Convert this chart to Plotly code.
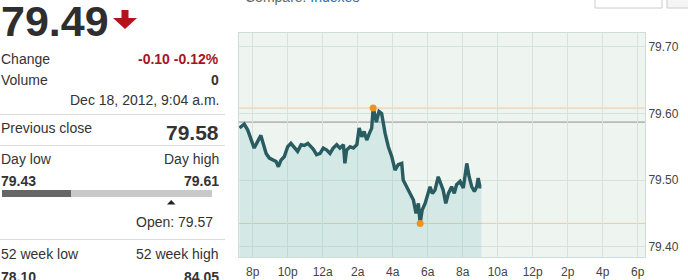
import plotly.graph_objects as go

# ---------------- data ----------------
times = [
    "2012-12-17 19:15", "2012-12-17 19:31", "2012-12-17 19:43", "2012-12-17 19:54",
    "2012-12-17 20:05", "2012-12-17 20:17", "2012-12-17 20:28", "2012-12-17 20:34",
    "2012-12-17 20:46", "2012-12-17 20:57", "2012-12-17 21:09", "2012-12-17 21:20",
    "2012-12-17 21:28", "2012-12-17 21:37", "2012-12-17 21:48", "2012-12-17 22:00",
    "2012-12-17 22:11", "2012-12-17 22:23", "2012-12-17 22:34", "2012-12-17 22:46",
    "2012-12-17 22:57", "2012-12-17 23:09", "2012-12-17 23:20", "2012-12-17 23:28",
    "2012-12-17 23:39", "2012-12-17 23:51", "2012-12-18 00:02", "2012-12-18 00:14",
    "2012-12-18 00:25", "2012-12-18 00:36", "2012-12-18 00:48", "2012-12-18 00:59",
    "2012-12-18 01:11", "2012-12-18 01:16", "2012-12-18 01:22", "2012-12-18 01:34",
    "2012-12-18 01:45", "2012-12-18 01:57", "2012-12-18 02:05", "2012-12-18 02:14",
    "2012-12-18 02:22", "2012-12-18 02:31", "2012-12-18 02:40", "2012-12-18 02:48",
    "2012-12-18 02:53", "2012-12-18 03:04", "2012-12-18 03:13", "2012-12-18 03:22",
    "2012-12-18 03:34", "2012-12-18 03:45", "2012-12-18 03:57", "2012-12-18 04:08",
    "2012-12-18 04:19", "2012-12-18 04:31", "2012-12-18 04:36", "2012-12-18 04:48",
    "2012-12-18 04:59", "2012-12-18 05:11", "2012-12-18 05:20", "2012-12-18 05:28",
    "2012-12-18 05:34", "2012-12-18 05:41", "2012-12-18 05:51", "2012-12-18 06:02",
    "2012-12-18 06:08", "2012-12-18 06:16", "2012-12-18 06:25", "2012-12-18 06:36",
    "2012-12-18 06:46", "2012-12-18 06:53", "2012-12-18 07:02", "2012-12-18 07:11",
    "2012-12-18 07:22", "2012-12-18 07:31", "2012-12-18 07:39", "2012-12-18 07:51",
    "2012-12-18 08:02", "2012-12-18 08:14", "2012-12-18 08:22", "2012-12-18 08:31",
    "2012-12-18 08:40", "2012-12-18 08:48", "2012-12-18 08:53", "2012-12-18 08:59",
    "2012-12-18 09:04",
]
prices = [
    79.578, 79.584, 79.575, 79.563, 79.548, 79.558, 79.567, 79.558,
    79.540, 79.533, 79.530, 79.528, 79.520, 79.530, 79.535, 79.550,
    79.555, 79.548, 79.543, 79.553, 79.552, 79.555, 79.550, 79.546,
    79.538, 79.540, 79.548, 79.545, 79.540, 79.548, 79.553, 79.548,
    79.553, 79.525, 79.545, 79.550, 79.548, 79.553, 79.578, 79.565,
    79.573, 79.560, 79.570, 79.578, 79.609, 79.587, 79.603, 79.600,
    79.570, 79.550, 79.535, 79.515, 79.523, 79.525, 79.500, 79.490,
    79.480, 79.470, 79.450, 79.465, 79.435, 79.455, 79.465, 79.480,
    79.490, 79.480, 79.485, 79.505, 79.495, 79.485, 79.465, 79.480,
    79.490, 79.480, 79.493, 79.498, 79.488, 79.525, 79.505, 79.490,
    79.483, 79.490, 79.503, 79.490, 79.490,
]

day_high_level = 79.608
prev_close_level = 79.587
day_low_level = 79.435

y_ticks = [79.40, 79.50, 79.60, 79.70]
x_tick_times = [
    "2012-12-17 20:00", "2012-12-17 22:00", "2012-12-18 00:00", "2012-12-18 02:00",
    "2012-12-18 04:00", "2012-12-18 06:00", "2012-12-18 08:00", "2012-12-18 10:00",
    "2012-12-18 12:00", "2012-12-18 14:00", "2012-12-18 16:00", "2012-12-18 18:00",
]
x_tick_labels = ["8p", "10p", "12a", "2a", "4a", "6a", "8a", "10a", "12p", "2p", "4p", "6p"]
x_range = ["2012-12-17 19:13", "2012-12-18 18:25"]
y_range = [79.3846, 79.7206]

last_price = "79.49"
change_text = "-0.10 -0.12%"
volume_text = "0"
date_text = "Dec 18, 2012, 9:04 a.m."
prev_close_text = "79.58"
day_low_text = "79.43"
day_high_text = "79.61"
open_text = "Open: 79.57"
wk_low_text = "78.10"
wk_high_text = "84.05"

# ---------------- styling ----------------
FONT = "Liberation Sans, Arial, sans-serif"
LINE = "#285c61"
ORANGE = "#f0931e"
PLOT_L, PLOT_T = 239, 33

i_max = prices.index(max(prices))
i_min = prices.index(min(prices))

fig = go.Figure()
fig.add_trace(go.Scatter(
    x=times, y=prices, mode="lines",
    line=dict(color=LINE, width=3.4),
    fill="tozeroy", fillcolor="rgba(100,180,180,0.19)",
    hoverinfo="skip", showlegend=False,
))
fig.add_trace(go.Scatter(
    x=[times[i_max], times[i_min]], y=[day_high_level, day_low_level],
    mode="markers", marker=dict(color=ORANGE, size=7),
    hoverinfo="skip", showlegend=False, cliponaxis=False,
))

shapes = []
for lvl, col in [(day_high_level, "#f3c79c"), (day_low_level, "#f3c79c"), (prev_close_level, "#8f8f8f")]:
    shapes.append(dict(type="line", xref="paper", yref="y", x0=0, x1=1, y0=lvl, y1=lvl,
                       line=dict(color=col, width=1), layer="below"))


def px_rect(x0, y0, x1, y1, fill, line_col=None, lw=0):
    return dict(type="rect", xref="paper", yref="paper", xsizemode="pixel", ysizemode="pixel",
                xanchor=0, yanchor=1,
                x0=x0 - PLOT_L, x1=x1 - PLOT_L, y0=-(y0 - PLOT_T), y1=-(y1 - PLOT_T),
                fillcolor=fill, line=dict(color=line_col or fill, width=lw), layer="above")


def px_path(pts, fill):
    d = "M" + " L".join(f"{x - PLOT_L},{-(y - PLOT_T)}" for x, y in pts) + " Z"
    return dict(type="path", xref="paper", yref="paper", xsizemode="pixel", ysizemode="pixel",
                xanchor=0, yanchor=1, path=d, fillcolor=fill, line=dict(width=0), layer="above")


# separators in left panel
for yy in [114, 145, 239]:
    shapes.append(px_rect(0, yy, 225, yy + 1, "#dcdcdc"))
# day range bar
shapes.append(px_rect(2, 190, 212, 197, "#c9c9c9"))
shapes.append(px_rect(2, 190, 71, 197, "#666666"))
# open marker triangle
shapes.append(px_path([(167, 204.5), (175.5, 204.5), (171.2, 200)], "#222222"))
# red down arrow
shapes.append(px_path([(121.5, 10), (128.5, 10), (128.5, 18), (137, 18), (125, 29), (113, 18), (121.5, 18)], "#b5121b"))
# top controls (cut off)
shapes.append(px_rect(595, -10, 662, 8, "#ffffff", "#cccccc", 1))
shapes.append(px_rect(667, -10, 700, 8, "#f4f4f4", "#cccccc", 1))

fig.update_layout(shapes=shapes)

ann = []


def txt(s, x, y, size=14, bold=False, color="#333333", anchor="left"):
    ann.append(dict(text=f"<b>{s}</b>" if bold else s, xref="paper", yref="paper", x=0, y=1,
                    xshift=x - PLOT_L, yshift=-(y - PLOT_T), xanchor=anchor, yanchor="middle",
                    showarrow=False, borderpad=0, borderwidth=0,
                    font=dict(family=FONT, size=size, color=color)))


txt(last_price, 1, 21, size=43, bold=True, color="#2e2e2e")
txt("Change", 1, 59)
txt(change_text, 219, 59, bold=True, color="#a8141b", anchor="right")
txt("Volume", 1, 80)
txt(volume_text, 219, 80, bold=True, anchor="right")
txt(date_text, 219, 100, anchor="right")
txt("Previous close", 1, 128)
txt(prev_close_text, 219, 132, size=21, bold=True, anchor="right")
txt("Day low", 1, 159)
txt("Day high", 219, 159, anchor="right")
txt(day_low_text, 1, 181, bold=True)
txt(day_high_text, 219, 181, bold=True, anchor="right")
txt(open_text, 213, 222, anchor="right")
txt("52 week low", 1, 254)
txt("52 week high", 219, 254, anchor="right")
txt(wk_low_text, 1, 277, bold=True)
txt(wk_high_text, 219, 277, bold=True, anchor="right")
txt("Compare: <span style='color:#2a6fb0'>Indexes</span>", 245, -3, color="#666666")

fig.update_layout(annotations=ann)

fig.update_layout(
    width=688, height=280,
    margin=dict(l=239, r=43, t=33, b=23, pad=0, autoexpand=False),
    paper_bgcolor="#ffffff", plot_bgcolor="#eef5f1",
    font=dict(family=FONT, size=12, color="#444444"),
    xaxis=dict(type="date", range=x_range, tickvals=x_tick_times, ticktext=x_tick_labels,
               showgrid=True, gridcolor="#d6e3dd", gridwidth=1, zeroline=False,
               showline=True, linecolor="#d0ddd7", mirror=True, ticks="", fixedrange=True,
               ticklabelstandoff=4, automargin=False,
               tickfont=dict(size=12, color="#444444")),
    yaxis=dict(range=y_range, side="right", tickvals=y_ticks, ticktext=[f"{v:.2f}" for v in y_ticks],
               showgrid=True, gridcolor="#d6e3dd", gridwidth=1, zeroline=False,
               showline=True, linecolor="#d0ddd7", mirror=True, ticks="", fixedrange=True,
               automargin=False,
               tickfont=dict(size=12, color="#444444")),
)

fig.write_html("out.html")
